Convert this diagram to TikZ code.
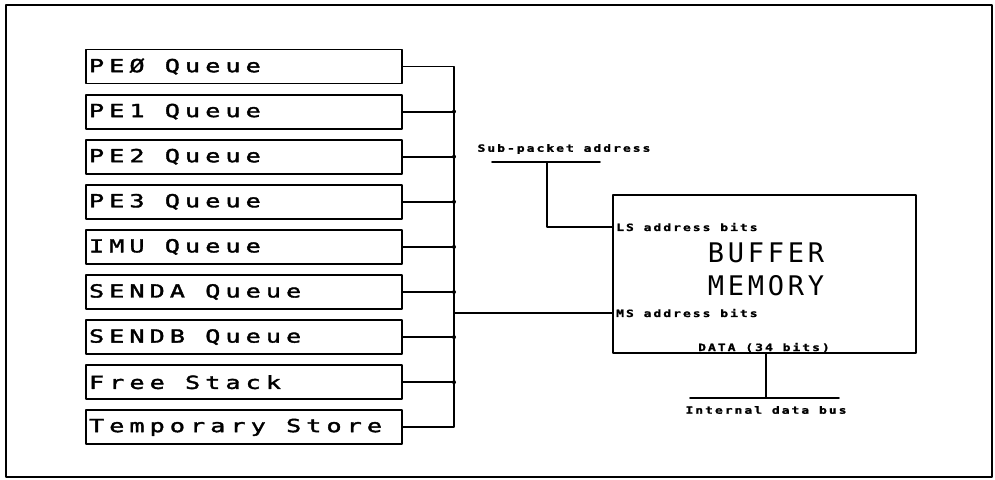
\documentclass[tikz,border=0pt]{standalone}
\usepackage{fontspec}
\usepackage{tikz}
\usetikzlibrary{calc,positioning}
\newfontfamily\plotfont[LetterSpace=28,FakeStretch=1.4,FakeBold=2]{DejaVu Sans Mono}
\newfontfamily\memfont[LetterSpace=14]{DejaVu Sans Mono}
\newfontfamily\tagfont[LetterSpace=20,FakeStretch=1.3,FakeBold=1.5]{DejaVu Sans Mono Bold}

\tikzset{
 queuebox/.style={draw,line width=1.8pt,rectangle,minimum height=34pt,
  inner xsep=3pt,inner ysep=0pt,
  font=\plotfont\fontsize{18}{20}\selectfont},
 membox/.style={draw,line width=1.8pt,minimum width=303pt,minimum height=158pt,inner sep=0pt},
 tag/.style={inner sep=0pt,font=\tagfont\fontsize{10}{11}\selectfont},
 wire/.style={line width=1.8pt},
 junct/.style={circle,fill,inner sep=0pt,minimum size=4pt}
}

\begin{document}
\begin{tikzpicture}[x=1pt,y=-1pt,line cap=round,line join=round]
 \useasboundingbox (0,0) rectangle (995,479);
 \draw[line width=1.8pt] (6,5) rectangle (992,477);
 % queues
 \foreach \txt [count=\i from 0] in {PEØ Queue,PE1 Queue,PE2 Queue,PE3 Queue,
   IMU Queue,SENDA Queue,SENDB Queue,Free Stack,Temporary Store}
  \node[queuebox] (q\i) at (244,66.5+45.1*\i) {\makebox[310pt][l]{\txt}};
 \coordinate (bus) at (454,0);
 \draw[wire] (q0.east) -- (q0.east -| bus) -- (q8.east -| bus) -- (q8.east);
 \foreach \i in {1,...,7} {
  \draw[wire] (q\i.east) -- (q\i.east -| bus);
  \node[junct] at (q\i.east -| bus) {};
 }
 % buffer memory
 \node[membox] (buffer) at (764.5,274) {};
 \node[font=\memfont\fontsize{27}{33}\selectfont,align=center,inner sep=0pt]
  (memtext) at (766,269.5) {BUFFER\\MEMORY};
 \node[tag,anchor=west] (lsbits) at (616,227) {LS address bits};
 \node[tag,anchor=west] (msbits) at (616,313) {MS address bits};
 \draw[wire] (msbits.west -| bus) -- (msbits.west -| buffer.west);
 % sub-packet address
 \node[tag] (subpkt) at (564,149) {Sub-packet address};
 \coordinate (subL) at (492,162);
 \coordinate (subR) at (600,162);
 \coordinate (subjoin) at (547,162);
 \draw[wire] (subL) -- (subR);
 \draw[wire] (subjoin) |- (lsbits.west -| buffer.west);
 % data bus
 \node[tag,anchor=base] (data) at (764,351) {DATA (34 bits)};
 \coordinate (dbusL) at (690,398);
 \coordinate (dbusR) at (839,398);
 \coordinate (datajoin) at (766,398);
 \draw[wire] (dbusL) -- (dbusR);
 \draw[wire] (buffer.south -| datajoin) -- (datajoin);
 \node[tag] (intbus) at (766,410) {Internal data bus};
\end{tikzpicture}
\end{document}
